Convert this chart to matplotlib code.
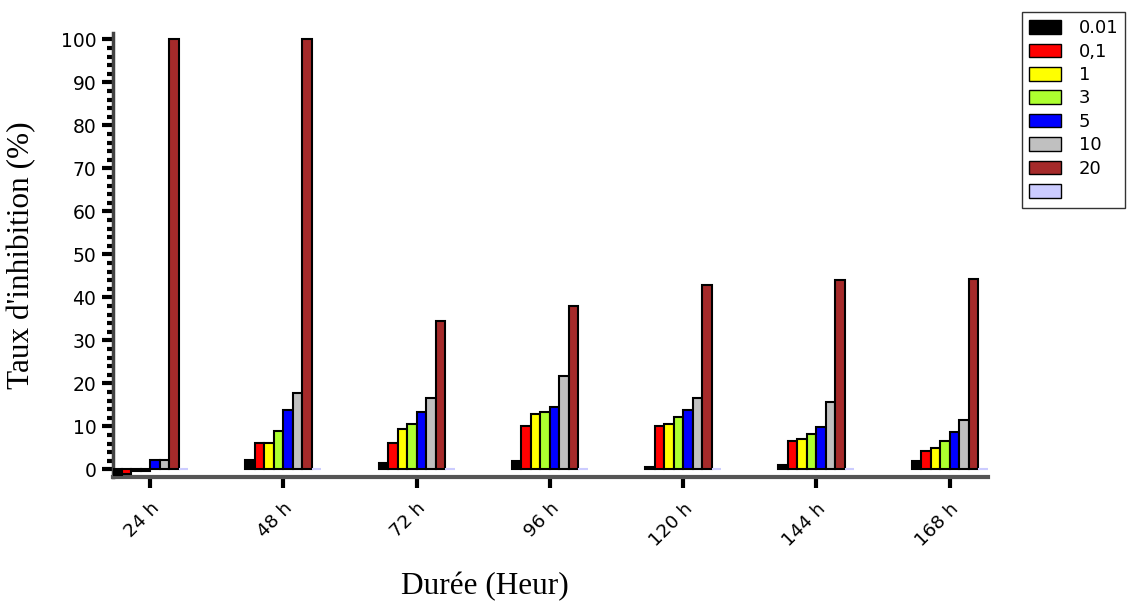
import matplotlib
matplotlib.use("Agg")
import matplotlib.pyplot as plt
import numpy as np
from matplotlib.ticker import MultipleLocator
from matplotlib.transforms import ScaledTranslation

categories = ["24 h", "48 h", "72 h", "96 h", "120 h", "144 h", "168 h"]
series_labels = ["0.01", "0,1", "1", "3", "5", "10", "20", " "]
v_001 = [-1.3, 2.3, 1.5, 1.9, 0.5, 1.0, 1.9]
v_01 = [-1.0, 6.1, 6.2, 10.2, 10.2, 6.7, 4.3]
v_1 = [-0.3, 6.1, 9.4, 13.0, 10.6, 7.0, 5.0]
v_3 = [-0.3, 8.9, 10.6, 13.4, 12.2, 8.2, 6.6]
v_5 = [2.3, 13.8, 13.4, 14.5, 13.8, 9.8, 8.6]
v_10 = [2.3, 17.8, 16.6, 21.8, 16.6, 15.8, 11.4]
v_20 = [100.0, 100.0, 34.6, 37.9, 43.0, 44.0, 44.4]
v_blank = [0, 0, 0, 0, 0, 0, 0]
series = [v_001, v_01, v_1, v_3, v_5, v_10, v_20, v_blank]
colors = ["#000000", "#ff0000", "#ffff00", "#adff2f", "#0000ff", "#c0c0c0", "#a52a2a", "#ccccff"]

fig = plt.figure(figsize=(11.27, 6.03), dpi=100)
ax = fig.add_axes([113/1127, 1-477/603, (988-113)/1127, (477-33)/603])

x = np.arange(len(categories))
n = len(series)
w = 0.0713
for i, (vals, c) in enumerate(zip(series, colors)):
    offs = (i - (n - 1) / 2) * w
    ec = "#ccccff" if i == n - 1 else "black"
    ax.bar(x + offs, vals, width=w, color=c, edgecolor=ec, linewidth=1.5,
           label=series_labels[i], zorder=3)

ax.set_xlim(-0.278, 6.287)
ax.set_ylim(-1.75, 101.5)
ax.set_xticks(x)
ax.set_xticklabels(categories, rotation=45, ha="right", rotation_mode="anchor",
                   fontsize=13.3, family="DejaVu Sans")
shift = ScaledTranslation(-4/100, -2/100, fig.dpi_scale_trans)
for lbl in ax.get_xticklabels():
    lbl.set_transform(lbl.get_transform() + shift)
ax.yaxis.set_major_locator(MultipleLocator(10))
ax.yaxis.set_minor_locator(MultipleLocator(2))
ax.set_yticks(np.arange(0, 101, 10))
for lbl in ax.get_yticklabels():
    lbl.set_fontsize(13.5)
ax.tick_params(axis="y", which="major", length=8, width=3, direction="out", pad=4, color="black")
ax.tick_params(axis="y", which="minor", length=4, width=3, direction="out", color="black")
ax.tick_params(axis="x", which="major", length=8, width=3, direction="out", pad=8, color="black")

for s in ["top", "right"]:
    ax.spines[s].set_visible(False)
ax.spines["left"].set_color("#444444")
ax.spines["left"].set_linewidth(2.5)
ax.spines["bottom"].set_color("#555555")
ax.spines["bottom"].set_linewidth(3)

ax.set_ylabel("Taux d'inhibition (%)", fontsize=22.5, family="Liberation Serif")
ax.set_xlabel("Durée (Heur)", fontsize=22.5, family="Liberation Serif")
ax.yaxis.set_label_coords((22 - 113) / 875, 0.5)
ax.xaxis.set_label_coords((485 - 113) / 875, -(587 - 477) / 444)
ax.xaxis.label.set_verticalalignment("center")
ax.yaxis.label.set_verticalalignment("center")

leg = fig.legend(loc="upper left", bbox_to_anchor=(1022/1127, 1-12/603),
                 frameon=True, fancybox=False, edgecolor="black",
                 fontsize=13, handlelength=1.78, handleheight=0.78,
                 handletextpad=0.95, labelspacing=0.30, borderpad=0.4,
                 borderaxespad=0)
leg.get_frame().set_linewidth(1.0)
for h in leg.legend_handles:
    h.set_edgecolor("black")
    h.set_linewidth(1.0)

fig.savefig("out.png", dpi=100)
